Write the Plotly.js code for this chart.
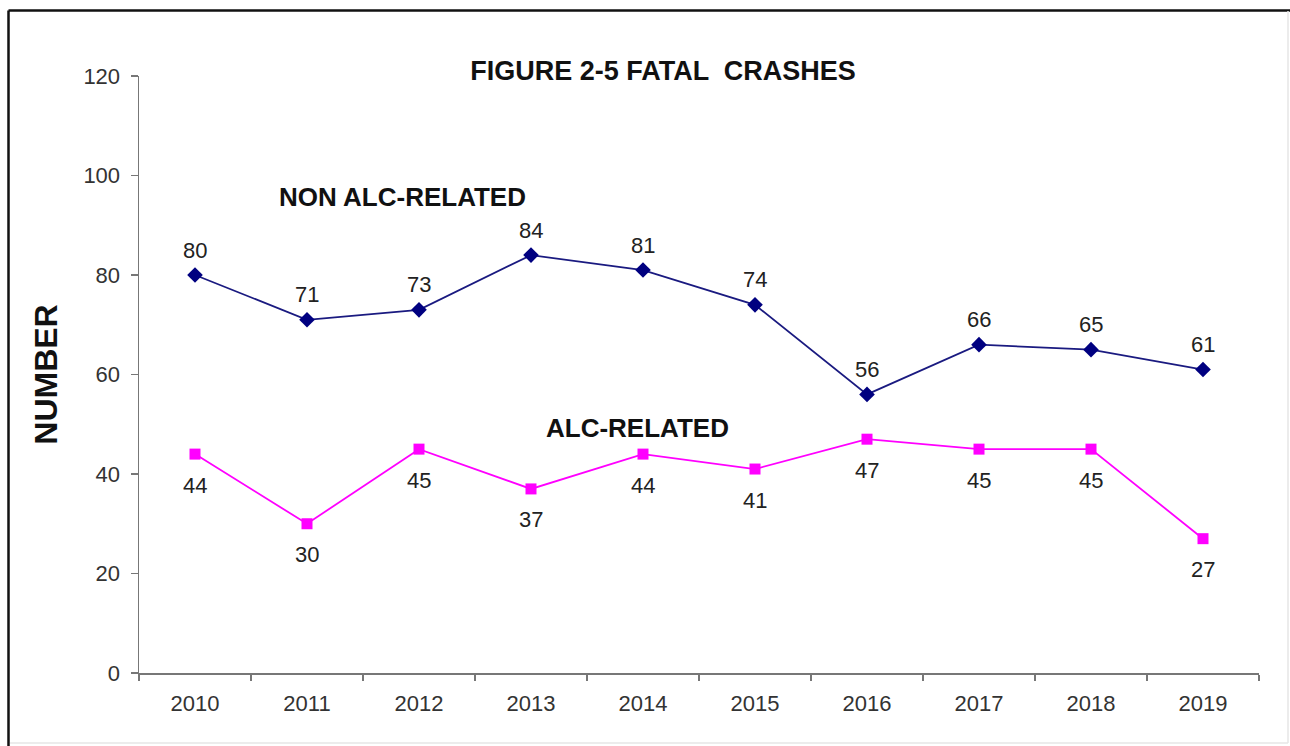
<!DOCTYPE html>
<html>
<head>
<meta charset="utf-8">
<script src="https://cdn.plot.ly/plotly-3.0.1.min.js"></script>
<style>html,body{margin:0;padding:0;background:#fff;} #chart{width:1290px;height:746px;}</style>
</head>
<body>
<div id="chart"></div>
<script>
const years = ['2010','2011','2012','2013','2014','2015','2016','2017','2018','2019'];
const nonAlc = [80, 71, 73, 84, 81, 74, 56, 66, 65, 61];
const alc = [44, 30, 45, 37, 44, 41, 47, 45, 45, 27];
const yTicks = [0, 20, 40, 60, 80, 100, 120];

const W = 1290, H = 746;
const L = 139, R = 1259, T = 76, B = 673;
const px = x => (x - L) / (R - L);
const py = y => (B - y) / (B - T);
const FONT = 'Liberation Sans, Arial, sans-serif';

const traces = [
  {x: years, y: nonAlc, type: 'scatter', mode: 'lines+markers', name: 'NON ALC-RELATED',
   line: {color: '#1a1a80', width: 1.8}, marker: {symbol: 'diamond', size: 12, color: '#000080'}, cliponaxis: false},
  {x: years, y: alc, type: 'scatter', mode: 'lines+markers', name: 'ALC-RELATED',
   line: {color: '#ff00ff', width: 1.8}, marker: {symbol: 'square', size: 11, color: '#ff00ff'}, cliponaxis: false}
];

const labelFont = {family: FONT, size: 22, color: '#222'};
const annotations = [];
years.forEach((yr, i) => {
  annotations.push({x: i, y: nonAlc[i], xref: 'x', yref: 'y', text: String(nonAlc[i]), showarrow: false, yshift: 25, font: labelFont});
  annotations.push({x: i, y: alc[i], xref: 'x', yref: 'y', text: String(alc[i]), showarrow: false, yshift: -31, font: labelFont});
});
annotations.push({xref: 'paper', yref: 'paper', x: px(402), y: py(197), xanchor: 'center', yanchor: 'middle', text: '<b>NON ALC-RELATED</b>', showarrow: false,
  font: {family: FONT, size: 26, color: '#111'}});
annotations.push({xref: 'paper', yref: 'paper', x: px(637), y: py(428), xanchor: 'center', yanchor: 'middle', text: '<b>ALC-RELATED</b>', showarrow: false,
  font: {family: FONT, size: 26, color: '#111'}});

const layout = {
  width: W, height: H,
  margin: {l: L, r: W - R, t: T, b: H - B, pad: 0},
  paper_bgcolor: '#fff', plot_bgcolor: '#fff',
  showlegend: false,
  title: {text: '<b>FIGURE 2-5 FATAL  CRASHES</b>', xref: 'container', yref: 'container', x: 663 / W, xanchor: 'center', y: 1 - 71 / H, yanchor: 'middle',
    font: {family: FONT, size: 27, color: '#111'}},
  xaxis: {type: 'category', range: [-0.5, 9.5], showgrid: false, zeroline: false, showline: true, linecolor: '#777', linewidth: 1.5,
    ticks: 'outside', tickson: 'boundaries', ticklen: 6, tickcolor: '#777', tickwidth: 1.5,
    tickfont: {family: FONT, size: 22, color: '#333'}, ticklabelstandoff: 10, fixedrange: true},
  yaxis: {range: [0, 120], tickvals: yTicks, showgrid: false, zeroline: false, showline: true, linecolor: '#777', linewidth: 1.5,
    ticks: 'outside', ticklen: 7, tickcolor: '#777', tickwidth: 1.5,
    tickfont: {family: FONT, size: 22, color: '#333'}, ticklabelstandoff: 6,
    title: {text: '<b>NUMBER</b>', standoff: 16, font: {family: FONT, size: 32, color: '#111'}}, fixedrange: true},
  annotations: annotations,
  shapes: [
    {type: 'line', xref: 'paper', yref: 'paper', x0: px(8.5), x1: px(1290), y0: py(10.5), y1: py(10.5), line: {color: '#111', width: 2.5}},
    {type: 'line', xref: 'paper', yref: 'paper', x0: px(8.5), x1: px(8.5), y0: py(10.5), y1: py(746), line: {color: '#111', width: 2.5}},
    {type: 'line', xref: 'paper', yref: 'paper', x0: px(1288), x1: px(1288), y0: py(11), y1: py(743), line: {color: '#e6e6e6', width: 1.5}},
    {type: 'line', xref: 'paper', yref: 'paper', x0: px(10), x1: px(1288), y0: py(743), y1: py(743), line: {color: '#e6e6e6', width: 1.5}}
  ]
};

Plotly.newPlot('chart', traces, layout, {displayModeBar: false, staticPlot: true});
</script>
</body>
</html>
